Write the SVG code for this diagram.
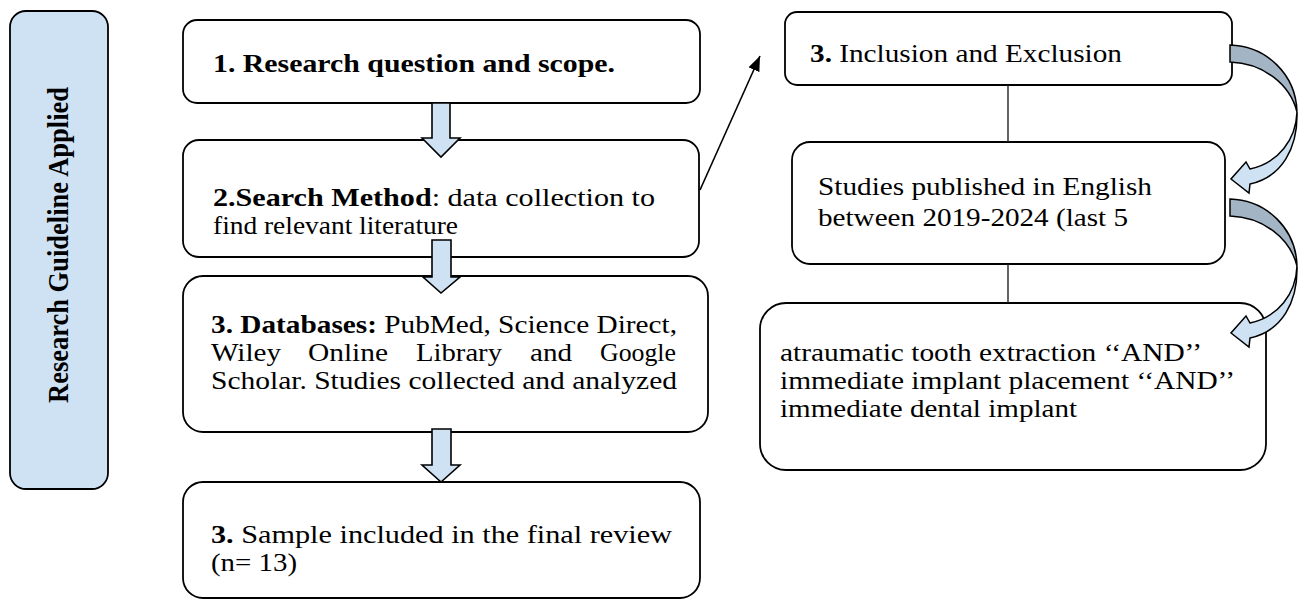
<svg xmlns="http://www.w3.org/2000/svg" width="1300" height="611" viewBox="0 0 1300 611">
<style>
.box{fill:#ffffff;stroke:#000;stroke-width:1.8}
.side{fill:#cfe2f3;stroke:#000;stroke-width:1.8}
.t{font-size:25px;fill:#000}
.b{font-weight:bold}
.blk{fill:#cfe2f3;stroke:#000;stroke-width:1.6;stroke-linejoin:miter}
.ln{stroke:#222;stroke-width:1.4;fill:none}
.dark{fill:#a3b4c4;stroke:#000;stroke-width:1.5}
.light{fill:#cfe2f3;stroke:#000;stroke-width:1.5}
</style>
<defs>
<marker id="ah" markerUnits="userSpaceOnUse" markerWidth="16" markerHeight="12" refX="15" refY="6" orient="auto">
<path d="M0,0 L15,6 L0,12 Z" fill="#000"/>
</marker>
<g id="curved">
<path class="dark" d="M1230,45 C1266,46 1296,74 1297,112 C1290,84 1263,63 1230,62 Z"/>
<path class="light" d="M1297,112 C1296,140 1278,163 1250,169 L1246,162 L1231,179 L1249,193 L1250,184 C1282,177 1298,148 1297,112 Z"/>
</g>
</defs>

<g font-family="Liberation Serif, Times New Roman, serif">
<g id="side-label">
<rect class="side" x="10" y="11" width="98" height="478" rx="16"/>
<text class="t b" transform="translate(68,245) scale(1.12,1) rotate(-90)" text-anchor="middle" textLength="316" lengthAdjust="spacingAndGlyphs" style="font-size:26.5px">Research Guideline Applied</text>
</g>

<g id="step1">
<rect class="box" x="183" y="20" width="517" height="83" rx="14"/>
<text class="t b" x="213" y="72" textLength="402" lengthAdjust="spacingAndGlyphs" style="font-size:26px">1. Research question and scope.</text>
</g>

<g id="step2">
<rect class="box" x="183" y="140" width="516" height="117" rx="16"/>
<text class="t" x="213" y="206" textLength="442" lengthAdjust="spacingAndGlyphs"><tspan class="b">2.Search Method</tspan>: data collection to</text>
<text class="t" x="213" y="234" textLength="245" lengthAdjust="spacingAndGlyphs">find relevant literature</text>
</g>

<g id="step3">
<rect class="box" x="183" y="276" width="525" height="156" rx="20"/>
<text class="t" x="211" y="333" textLength="466" lengthAdjust="spacingAndGlyphs"><tspan class="b">3. Databases:</tspan> PubMed, Science Direct,</text>
<text class="t" x="211" y="361" textLength="70" lengthAdjust="spacingAndGlyphs">Wiley</text>
<text class="t" x="308" y="361" textLength="80" lengthAdjust="spacingAndGlyphs">Online</text>
<text class="t" x="416" y="361" textLength="86" lengthAdjust="spacingAndGlyphs">Library</text>
<text class="t" x="530" y="361" textLength="42" lengthAdjust="spacingAndGlyphs">and</text>
<text class="t" x="600" y="361" textLength="76" lengthAdjust="spacingAndGlyphs">Google</text>
<text class="t" x="211" y="389" textLength="466" lengthAdjust="spacingAndGlyphs">Scholar. Studies collected and analyzed</text>
</g>

<g id="step4">
<rect class="box" x="183" y="482" width="517" height="116" rx="20"/>
<text class="t" x="211" y="543" textLength="461" lengthAdjust="spacingAndGlyphs"><tspan class="b">3.</tspan> Sample included in the final review</text>
<text class="t" x="211" y="571" textLength="86" lengthAdjust="spacingAndGlyphs">(n= 13)</text>
</g>

<g id="inclusion">
<rect class="box" x="785" y="12" width="447" height="73" rx="12"/>
<text class="t" x="810" y="62" textLength="312" lengthAdjust="spacingAndGlyphs"><tspan class="b">3.</tspan> Inclusion and Exclusion</text>
</g>

<g id="studies">
<rect class="box" x="792" y="142" width="433" height="122" rx="18"/>
<text class="t" x="818" y="195" textLength="334" lengthAdjust="spacingAndGlyphs">Studies published in English</text>
<text class="t" x="818" y="226" textLength="310" lengthAdjust="spacingAndGlyphs">between 2019-2024 (last 5</text>
</g>

<g id="keywords">
<rect class="box" x="760" y="303" width="506" height="167" rx="26"/>
<text class="t" x="780" y="361" textLength="422" lengthAdjust="spacingAndGlyphs">atraumatic tooth extraction ‘‘AND’’</text>
<text class="t" x="780" y="389" textLength="455" lengthAdjust="spacingAndGlyphs">immediate implant placement ‘‘AND’’</text>
<text class="t" x="780" y="417" textLength="297" lengthAdjust="spacingAndGlyphs">immediate dental implant</text>
</g>
</g>

<g id="connectors">
<polygon class="blk" points="432,103 450,103 450,138 460,138 441,157 422,138 432,138"/>
<polygon class="blk" points="432,240 451,240 451,277 460,277 441,293 423,277 432,277"/>
<polygon class="blk" points="432,429 451,429 451,465 460,465 441,482 422,465 432,465"/>
<line x1="700" y1="190" x2="760" y2="56" stroke="#000" stroke-width="1.6" marker-end="url(#ah)"/>
<line class="ln" x1="1008" y1="85" x2="1008" y2="142"/>
<line class="ln" x1="1008" y1="264" x2="1008" y2="303"/>
<use href="#curved"/>
<use href="#curved" transform="translate(0,154)"/>
</g>
</svg>
